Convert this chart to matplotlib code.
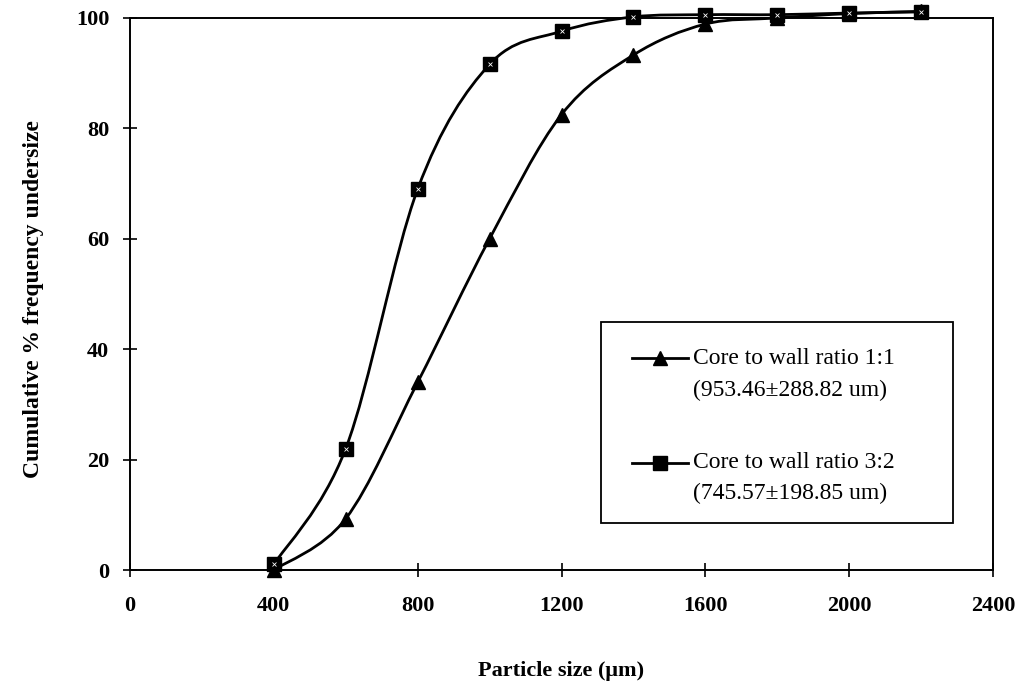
import numpy as np
import matplotlib
matplotlib.use("Agg")
import matplotlib.pyplot as plt
from matplotlib.path import Path
from matplotlib.patches import PathPatch, Rectangle

# --- Data ---
size_um = [400, 600, 800, 1000, 1200, 1400, 1600, 1800, 2000, 2200]
ratio_11 = [0, 9.3, 34, 60, 82.5, 93.3, 98.9, 100, 100.8, 101.2]
ratio_32 = [1, 22, 69, 91.6, 97.6, 100.2, 100.6, 100.6, 100.9, 101.1]
label_11 = ["Core to wall ratio 1:1", "(953.46\u00b1288.82 um)"]
label_32 = ["Core to wall ratio 3:2", "(745.57\u00b1198.85 um)"]
x_ticks = [0, 400, 800, 1200, 1600, 2000, 2400]
y_ticks = [0, 20, 40, 60, 80, 100]

plt.rcParams['font.family'] = ['Liberation Serif', 'DejaVu Serif']


def smooth_path(x, y):
    # bezier through the points, like a spreadsheet "smoothed line"
    x = np.asarray(x, float)
    y = np.asarray(y, float)
    n = len(x)
    verts = [(x[0], y[0])]
    codes = [Path.MOVETO]
    for i in range(n - 1):
        i0 = max(i - 1, 0)
        i3 = min(i + 2, n - 1)
        c1 = (x[i] + (x[i + 1] - x[i0]) / 6, y[i] + (y[i + 1] - y[i0]) / 6)
        c2 = (x[i + 1] - (x[i3] - x[i]) / 6, y[i + 1] - (y[i3] - y[i]) / 6)
        verts += [c1, c2, (x[i + 1], y[i + 1])]
        codes += [Path.CURVE4] * 3
    return Path(verts, codes)


fig = plt.figure(figsize=(10.27, 6.92), dpi=100)
# axes box: x 130..993 px, y 18..570 px
ax = fig.add_axes([130 / 1027, 1 - 570 / 692, 863 / 1027, 552 / 692])

LW = 2.0
MS = 10
for yy, mk in [(ratio_11, '^'), (ratio_32, 's')]:
    ax.add_patch(PathPatch(smooth_path(size_um, yy), fill=False,
                           edgecolor='black', linewidth=LW, zorder=2, clip_on=False))
    ax.plot(size_um, yy, linestyle='none', marker=mk, markersize=MS,
            color='black', zorder=3, clip_on=False)
# speckle inside the square markers
ax.plot(size_um, ratio_32, linestyle='none', marker='x', markersize=3.5,
        color='white', markeredgewidth=0.6, zorder=4, clip_on=False)

ax.set_xlim(0, 2400)
ax.set_ylim(0, 100)
ax.set_xticks(x_ticks)
ax.set_yticks(y_ticks)
ax.tick_params(direction='inout', length=10, width=1.2, labelsize=16)
ax.tick_params(axis='x', pad=14)
ax.tick_params(axis='y', pad=10)
for lbl in ax.get_xticklabels() + ax.get_yticklabels():
    lbl.set_fontweight('bold')
for sp in ax.spines.values():
    sp.set_linewidth(1.4)

ax.set_xlabel('Particle size (\u03bcm)', fontsize=16, fontweight='bold')
ax.set_ylabel('Cumulative % frequency undersize', fontsize=17, fontweight='bold')
ax.xaxis.set_label_coords(0.5, -0.165)
ax.yaxis.set_label_coords(-0.1, 0.49)

# --- legend box drawn by hand (axes fraction coords) ---
ax.add_patch(Rectangle((0.546, 0.085), 0.408, 0.364, transform=ax.transAxes,
                       facecolor='white', edgecolor='black', linewidth=1.3, zorder=5))
leg_fs = 17
for mk, lines, y1, y2 in [('^', label_11, 0.384, 0.326), ('s', label_32, 0.194, 0.139)]:
    ax.plot([0.582, 0.647], [y1, y1], color='black', linewidth=LW,
            transform=ax.transAxes, zorder=6)
    ax.plot([0.614], [y1], marker=mk, markersize=MS, color='black',
            transform=ax.transAxes, zorder=7)
    ax.text(0.652, y1, lines[0], transform=ax.transAxes, fontsize=leg_fs,
            va='center', ha='left', zorder=7)
    ax.text(0.652, y2, lines[1], transform=ax.transAxes, fontsize=leg_fs,
            va='center', ha='left', zorder=7)

fig.savefig('out.png', dpi=100)
